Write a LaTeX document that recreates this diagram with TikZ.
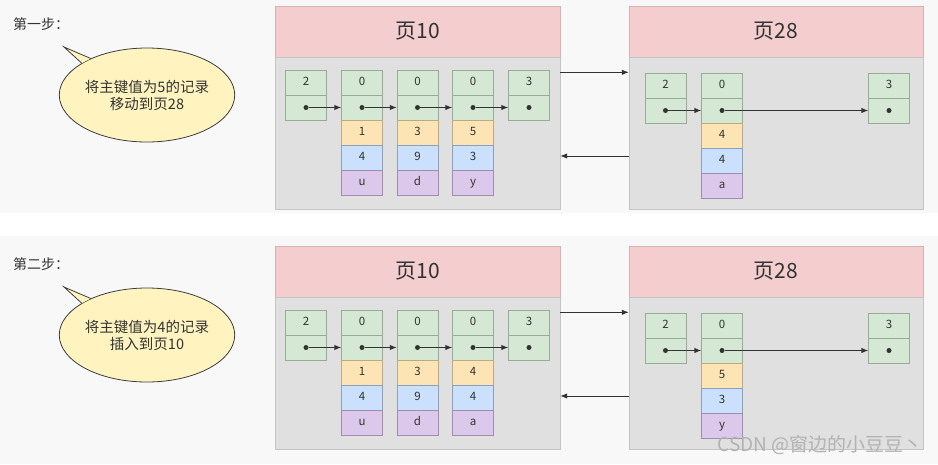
\documentclass[tikz,border=0pt]{standalone}
\usepackage{fontspec}
\setmainfont{Noto Sans CJK SC}
\usetikzlibrary{arrows,arrows.meta,shapes.geometric,positioning,calc}

\definecolor{bgcol}{RGB}{248,248,248}
\definecolor{txt}{RGB}{50,50,50}
\definecolor{headfill}{RGB}{244,206,206}
\definecolor{headline}{RGB}{214,178,178}
\definecolor{bodyfill}{RGB}{224,224,224}
\definecolor{bodyline}{RGB}{196,196,196}
\definecolor{grnfill}{RGB}{213,232,212}
\definecolor{grnline}{RGB}{150,172,150}
\definecolor{orgfill}{RGB}{252,228,180}
\definecolor{orgline}{RGB}{190,170,130}
\definecolor{blufill}{RGB}{202,224,252}
\definecolor{bluline}{RGB}{140,160,190}
\definecolor{purfill}{RGB}{220,200,234}
\definecolor{purline}{RGB}{160,140,175}
\definecolor{bubfill}{RGB}{255,244,192}
\definecolor{bubline}{RGB}{60,60,60}

\tikzset{
    cell/.style={draw, minimum width=41pt, minimum height=25pt, inner sep=0pt,
        text height=8pt, text depth=2pt, text=txt, font=\fontsize{11.5}{11.5}\selectfont},
    gcell/.style={cell, fill=grnfill, draw=grnline},
    ocell/.style={cell, fill=orgfill, draw=orgline},
    bcell/.style={cell, fill=blufill, draw=bluline},
    pcell/.style={cell, fill=purfill, draw=purline},
    pagehead/.style={draw=headline, fill=headfill, minimum height=51pt, inner sep=0pt,
        text=txt, font=\fontsize{21}{21}\selectfont},
    pagebody/.style={draw=bodyline, fill=bodyfill, minimum height=152pt, inner sep=0pt},
    dot/.style={circle, fill=txt, inner sep=0pt, minimum size=5pt},
    ptr/.style={-{Latex[length=7pt,width=5.5pt]}, line width=1pt, draw=txt},
    bubble/.style={ellipse, draw=bubline, fill=bubfill, line width=0.8pt, minimum width=166pt,
        minimum height=94pt, inner sep=0pt, align=center, text=txt,
        font=\fontsize{14.5}{17}\selectfont},
    stepnote/.style={anchor=west, inner sep=0pt, text=txt, font=\fontsize{14}{14}\selectfont}
}

\begin{document}
\begin{tikzpicture}[x=1pt,y=-1pt]
    \useasboundingbox (0,0) rectangle (938,464);
    \fill[bgcol] (0,0) rectangle (938,464);
    \fill[white] (0,213) rectangle (938,236);

    % ================== Step one ==================
    \node[stepnote] (astep) at (13,24) {第一步：};
    \node[bubble] (abub) at (147,95) {将主键值为5的记录\\移动到页28};
    \coordinate (atip) at (64,47);
    \fill[bubfill] (abub.154) -- (atip) -- (abub.147) -- cycle;
    \draw[bubline, line width=0.8pt, line join=miter] (abub.154) -- (atip) -- (abub.147);

    % Top pages
    \node[pagehead, minimum width=285pt] (ahead10) at (417.5,31.5) {页10};
    \node[pagebody, minimum width=285pt] (abody10) at (417.5,133) {};
    \node[pagehead, minimum width=294pt] (ahead28) at (776,31.5) {页28};
    \node[pagebody, minimum width=294pt] (abody28) at (776,133) {};

    % Top page 10 records
    \node[gcell] (a10inf) at (306,82.5) {2};
    \node[gcell] (a10infp) at (306,107.5) {};
    \node[gcell] (a10r1) at (362,82.5) {0};
    \node[gcell] (a10r1p) at (362,107.5) {};
    \node[ocell] (a10r1a) at (362,132.5) {1};
    \node[bcell] (a10r1b) at (362,157.5) {4};
    \node[pcell] (a10r1c) at (362,182.5) {u};
    \node[gcell] (a10r2) at (417.5,82.5) {0};
    \node[gcell] (a10r2p) at (417.5,107.5) {};
    \node[ocell] (a10r2a) at (417.5,132.5) {3};
    \node[bcell] (a10r2b) at (417.5,157.5) {9};
    \node[pcell] (a10r2c) at (417.5,182.5) {d};
    \node[gcell] (a10r3) at (473,82.5) {0};
    \node[gcell] (a10r3p) at (473,107.5) {};
    \node[ocell] (a10r3a) at (473,132.5) {5};
    \node[bcell] (a10r3b) at (473,157.5) {3};
    \node[pcell] (a10r3c) at (473,182.5) {y};
    \node[gcell] (a10sup) at (529,82.5) {3};
    \node[gcell] (a10supp) at (529,107.5) {};

    % Top page 28 records
    \node[gcell] (a28inf) at (665.5,85.5) {2};
    \node[gcell] (a28infp) at (665.5,110.5) {};
    \node[gcell] (a28r1) at (722,85.5) {0};
    \node[gcell] (a28r1p) at (722,110.5) {};
    \node[ocell] (a28r1a) at (722,135.5) {4};
    \node[bcell] (a28r1b) at (722,160.5) {4};
    \node[pcell] (a28r1c) at (722,185.5) {a};
    \node[gcell] (a28sup) at (889,85.5) {3};
    \node[gcell] (a28supp) at (889,110.5) {};

    % Top pointers
    \node[dot] (a10d0) at (a10infp) {};
    \node[dot] (a10d1) at (a10r1p) {};
    \node[dot] (a10d2) at (a10r2p) {};
    \node[dot] (a10d3) at (a10r3p) {};
    \node[dot] (a10d4) at (a10supp) {};
    \node[dot] (a28d0) at (a28infp) {};
    \node[dot] (a28d1) at (a28r1p) {};
    \node[dot] (a28d2) at (a28supp) {};
    \draw[ptr] (a10d0) -- (a10r1p);
    \draw[ptr] (a10d1) -- (a10r2p);
    \draw[ptr] (a10d2) -- (a10r3p);
    \draw[ptr] (a10d3) -- (a10supp);
    \draw[ptr] (a28d0) -- (a28r1p);
    \draw[ptr] (a28d1) -- (a28supp);
    \draw[ptr] ([yshift=-15.5pt]abody10.north east) -- ([yshift=-15.5pt]abody28.north west);
    \draw[ptr] ([yshift=-23pt]abody28.west) -- ([yshift=-23pt]abody10.east);

    % ================== Step two ==================
    \node[stepnote] (bstep) at (13,264) {第二步：};
    \node[bubble] (bbub) at (147,335) {将主键值为4的记录\\插入到页10};
    \coordinate (btip) at (64,287);
    \fill[bubfill] (bbub.154) -- (btip) -- (bbub.147) -- cycle;
    \draw[bubline, line width=0.8pt, line join=miter] (bbub.154) -- (btip) -- (bbub.147);

    % Bottom pages
    \node[pagehead, minimum width=285pt] (bhead10) at (417.5,271.5) {页10};
    \node[pagebody, minimum width=285pt] (bbody10) at (417.5,373) {};
    \node[pagehead, minimum width=294pt] (bhead28) at (776,271.5) {页28};
    \node[pagebody, minimum width=294pt] (bbody28) at (776,373) {};

    % Bottom page 10 records
    \node[gcell] (b10inf) at (306,322.5) {2};
    \node[gcell] (b10infp) at (306,347.5) {};
    \node[gcell] (b10r1) at (362,322.5) {0};
    \node[gcell] (b10r1p) at (362,347.5) {};
    \node[ocell] (b10r1a) at (362,372.5) {1};
    \node[bcell] (b10r1b) at (362,397.5) {4};
    \node[pcell] (b10r1c) at (362,422.5) {u};
    \node[gcell] (b10r2) at (417.5,322.5) {0};
    \node[gcell] (b10r2p) at (417.5,347.5) {};
    \node[ocell] (b10r2a) at (417.5,372.5) {3};
    \node[bcell] (b10r2b) at (417.5,397.5) {9};
    \node[pcell] (b10r2c) at (417.5,422.5) {d};
    \node[gcell] (b10r3) at (473,322.5) {0};
    \node[gcell] (b10r3p) at (473,347.5) {};
    \node[ocell] (b10r3a) at (473,372.5) {4};
    \node[bcell] (b10r3b) at (473,397.5) {4};
    \node[pcell] (b10r3c) at (473,422.5) {a};
    \node[gcell] (b10sup) at (529,322.5) {3};
    \node[gcell] (b10supp) at (529,347.5) {};

    % Bottom page 28 records
    \node[gcell] (b28inf) at (665.5,325.5) {2};
    \node[gcell] (b28infp) at (665.5,350.5) {};
    \node[gcell] (b28r1) at (722,325.5) {0};
    \node[gcell] (b28r1p) at (722,350.5) {};
    \node[ocell] (b28r1a) at (722,375.5) {5};
    \node[bcell] (b28r1b) at (722,400.5) {3};
    \node[pcell] (b28r1c) at (722,425.5) {y};
    \node[gcell] (b28sup) at (889,325.5) {3};
    \node[gcell] (b28supp) at (889,350.5) {};

    % Bottom pointers
    \node[dot] (b10d0) at (b10infp) {};
    \node[dot] (b10d1) at (b10r1p) {};
    \node[dot] (b10d2) at (b10r2p) {};
    \node[dot] (b10d3) at (b10r3p) {};
    \node[dot] (b10d4) at (b10supp) {};
    \node[dot] (b28d0) at (b28infp) {};
    \node[dot] (b28d1) at (b28r1p) {};
    \node[dot] (b28d2) at (b28supp) {};
    \draw[ptr] (b10d0) -- (b10r1p);
    \draw[ptr] (b10d1) -- (b10r2p);
    \draw[ptr] (b10d2) -- (b10r3p);
    \draw[ptr] (b10d3) -- (b10supp);
    \draw[ptr] (b28d0) -- (b28r1p);
    \draw[ptr] (b28d1) -- (b28supp);
    \draw[ptr] ([yshift=-15.5pt]bbody10.north east) -- ([yshift=-15.5pt]bbody28.north west);
    \draw[ptr] ([yshift=-23pt]bbody28.west) -- ([yshift=-23pt]bbody10.east);

    % Watermark
    \node[anchor=east, inner sep=0pt, text=white!70!black, font=\fontsize{19}{19}\selectfont] (mark) at (923,445) {CSDN @窗边的小豆豆丶};
\end{tikzpicture}
\end{document}
